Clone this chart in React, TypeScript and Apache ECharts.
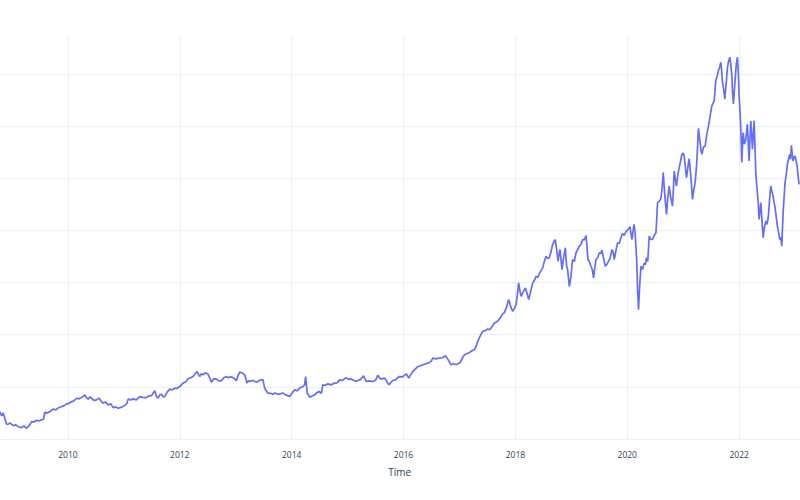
import React, { useEffect, useRef } from "react";
import * as echarts from "echarts";

// Time (decimal years)
const years: number[] = [
  2008.786, 2008.816, 2008.845, 2008.875, 2008.905, 2008.934, 2008.964, 2009.023, 2009.071, 2009.113,
  2009.173, 2009.214, 2009.262, 2009.304, 2009.352, 2009.393, 2009.441, 2009.482, 2009.530, 2009.563,
  2009.589, 2009.634, 2009.679, 2009.738, 2009.786, 2009.827, 2009.888, 2009.929, 2009.977, 2010.018,
  2010.066, 2010.107, 2010.155, 2010.196, 2010.245, 2010.304, 2010.330, 2010.363, 2010.393, 2010.423,
  2010.464, 2010.513, 2010.545, 2010.571, 2010.602, 2010.630, 2010.670, 2010.720, 2010.768, 2010.809,
  2010.857, 2010.898, 2010.946, 2010.988, 2011.048, 2011.077, 2011.125, 2011.166, 2011.227, 2011.259,
  2011.286, 2011.339, 2011.405, 2011.446, 2011.495, 2011.527, 2011.554, 2011.580, 2011.613, 2011.643,
  2011.673, 2011.705, 2011.732, 2011.777, 2011.821, 2011.866, 2011.911, 2011.955, 2012.000, 2012.059,
  2012.107, 2012.148, 2012.196, 2012.238, 2012.277, 2012.309, 2012.339, 2012.357, 2012.388, 2012.416,
  2012.455, 2012.505, 2012.536, 2012.566, 2012.607, 2012.655, 2012.696, 2012.745, 2012.786, 2012.834,
  2012.875, 2012.911, 2012.952, 2012.982, 2013.013, 2013.041, 2013.071, 2013.116, 2013.161, 2013.184,
  2013.202, 2013.232, 2013.268, 2013.309, 2013.348, 2013.398, 2013.438, 2013.488, 2013.518, 2013.545,
  2013.577, 2013.625, 2013.666, 2013.705, 2013.755, 2013.786, 2013.839, 2013.893, 2013.964, 2014.009,
  2014.054, 2014.098, 2014.143, 2014.202, 2014.232, 2014.250, 2014.280, 2014.321, 2014.366, 2014.411,
  2014.446, 2014.488, 2014.530, 2014.559, 2014.598, 2014.648, 2014.705, 2014.768, 2014.813, 2014.857,
  2014.911, 2014.977, 2015.018, 2015.054, 2015.095, 2015.143, 2015.184, 2015.232, 2015.286, 2015.334,
  2015.384, 2015.452, 2015.500, 2015.541, 2015.571, 2015.602, 2015.661, 2015.696, 2015.738, 2015.768,
  2015.809, 2015.857, 2015.893, 2015.929, 2015.982, 2016.048, 2016.071, 2016.095, 2016.125, 2016.166,
  2016.214, 2016.255, 2016.304, 2016.345, 2016.402, 2016.464, 2016.500, 2016.523, 2016.580, 2016.643,
  2016.696, 2016.750, 2016.791, 2016.821, 2016.852, 2016.893, 2016.941, 2016.973, 2017.013, 2017.054,
  2017.089, 2017.134, 2017.179, 2017.223, 2017.268, 2017.295, 2017.327, 2017.357, 2017.384, 2017.416,
  2017.455, 2017.505, 2017.536, 2017.566, 2017.598, 2017.625, 2017.670, 2017.714, 2017.745, 2017.773,
  2017.804, 2017.839, 2017.880, 2017.902, 2017.929, 2017.952, 2017.982, 2018.013, 2018.036, 2018.059,
  2018.080, 2018.102, 2018.134, 2018.179, 2018.205, 2018.238, 2018.268, 2018.309, 2018.339, 2018.370,
  2018.402, 2018.429, 2018.459, 2018.488, 2018.518, 2018.548, 2018.577, 2018.607, 2018.638, 2018.666,
  2018.714, 2018.738, 2018.763, 2018.786, 2018.798, 2018.834, 2018.857, 2018.893, 2018.916, 2018.934,
  2018.964, 2018.991, 2019.023, 2019.054, 2019.084, 2019.113, 2019.143, 2019.173, 2019.202, 2019.232,
  2019.262, 2019.277, 2019.298, 2019.321, 2019.352, 2019.375, 2019.398, 2019.420, 2019.441, 2019.473,
  2019.500, 2019.527, 2019.548, 2019.571, 2019.607, 2019.634, 2019.666, 2019.696, 2019.727, 2019.750,
  2019.768, 2019.795, 2019.827, 2019.857, 2019.888, 2019.916, 2019.946, 2019.977, 2020.005, 2020.048,
  2020.084, 2020.120, 2020.138, 2020.155, 2020.170, 2020.184, 2020.202, 2020.220, 2020.245, 2020.273,
  2020.304, 2020.325, 2020.345, 2020.366, 2020.393, 2020.420, 2020.452, 2020.482, 2020.513, 2020.527,
  2020.541, 2020.571, 2020.602, 2020.621, 2020.643, 2020.670, 2020.702, 2020.723, 2020.750, 2020.777,
  2020.809, 2020.825, 2020.839, 2020.861, 2020.880, 2020.905, 2020.929, 2020.952, 2020.977, 2021.000,
  2021.018, 2021.039, 2021.059, 2021.084, 2021.107, 2021.129, 2021.148, 2021.166, 2021.191, 2021.214,
  2021.241, 2021.259, 2021.273, 2021.295, 2021.316, 2021.334, 2021.363, 2021.393, 2021.423, 2021.452,
  2021.482, 2021.512, 2021.536, 2021.554, 2021.571, 2021.584, 2021.607, 2021.630, 2021.652, 2021.673,
  2021.688, 2021.702, 2021.723, 2021.745, 2021.768, 2021.791, 2021.813, 2021.834, 2021.852, 2021.870,
  2021.884, 2021.898, 2021.914, 2021.929, 2021.950, 2021.970, 2021.986, 2022.000, 2022.018, 2022.030,
  2022.048, 2022.071, 2022.095, 2022.120, 2022.134, 2022.148, 2022.164, 2022.179, 2022.193, 2022.209,
  2022.223, 2022.238, 2022.254, 2022.268, 2022.282, 2022.298, 2022.313, 2022.327, 2022.343, 2022.357,
  2022.371, 2022.388, 2022.407, 2022.429, 2022.452, 2022.477, 2022.500, 2022.523, 2022.545, 2022.566,
  2022.586, 2022.607, 2022.625, 2022.643, 2022.664, 2022.684, 2022.705, 2022.727, 2022.745, 2022.763,
  2022.773, 2022.786, 2022.804, 2022.821, 2022.843, 2022.863, 2022.884, 2022.905, 2022.920, 2022.934,
  2022.950, 2022.964, 2022.982, 2023.000, 2023.021, 2023.041, 2023.057, 2023.071,
];

// Series values
const values: number[] = [
  26.0, 22.1, 25.0, 19.2, 14.4, 14.1, 15.4, 12.8, 13.5, 11.8,
  10.9, 12.5, 10.3, 12.5, 16.6, 16.3, 18.0, 17.3, 18.3, 19.2,
  25.7, 25.0, 26.3, 28.8, 27.9, 29.8, 31.1, 31.7, 33.7, 34.1,
  35.9, 36.5, 39.1, 38.5, 39.7, 42.3, 39.4, 38.2, 40.4, 39.1,
  37.0, 37.5, 38.9, 38.5, 35.6, 34.3, 35.6, 32.7, 33.7, 30.1,
  30.8, 29.5, 30.3, 31.1, 33.4, 38.2, 37.5, 38.5, 37.5, 39.4,
  40.7, 39.9, 39.7, 41.3, 41.6, 44.2, 46.2, 41.3, 39.1, 42.3,
  43.0, 40.4, 40.7, 45.2, 47.8, 47.1, 48.8, 48.6, 50.3, 53.6,
  54.8, 57.7, 58.7, 59.9, 62.5, 64.7, 61.5, 59.9, 62.5, 61.5,
  63.5, 62.2, 58.7, 54.5, 57.7, 57.7, 55.8, 55.8, 58.7, 59.9,
  58.7, 59.6, 58.9, 57.7, 55.8, 60.6, 64.1, 63.5, 61.5, 57.7,
  53.6, 55.8, 55.3, 56.4, 54.8, 55.1, 56.7, 56.7, 48.8, 46.2,
  43.9, 43.8, 43.0, 44.2, 43.0, 43.0, 44.2, 42.3, 40.7, 44.2,
  47.1, 46.2, 48.8, 50.3, 51.9, 59.9, 43.9, 40.1, 41.3, 42.3,
  44.2, 45.5, 43.9, 51.9, 51.4, 52.9, 51.9, 53.6, 53.8, 56.7,
  56.3, 58.9, 57.2, 57.7, 56.7, 55.3, 56.1, 57.2, 60.6, 55.1,
  55.8, 55.1, 56.3, 61.3, 58.7, 57.4, 58.4, 55.8, 51.9, 53.8,
  56.1, 56.7, 58.7, 59.9, 59.6, 62.5, 60.6, 58.4, 61.5, 64.7,
  67.3, 69.5, 70.2, 71.2, 72.1, 73.4, 75.0, 77.6, 76.9, 77.6,
  77.9, 79.8, 76.6, 74.0, 71.2, 72.1, 71.2, 72.1, 73.4, 77.9,
  80.8, 81.7, 83.0, 84.6, 85.6, 88.5, 93.6, 97.1, 100.0, 103.2,
  103.8, 105.5, 104.8, 106.4, 109.1, 111.3, 112.5, 115.1, 117.3, 120.2,
  121.2, 126.0, 133.7, 129.8, 125.0, 122.4, 125.0, 128.8, 138.5, 149.7,
  142.3, 136.8, 140.4, 144.9, 140.4, 133.7, 140.4, 149.7, 151.9, 156.1,
  154.8, 158.7, 161.5, 164.1, 170.2, 175.3, 173.1, 173.8, 179.8, 186.5,
  191.3, 181.7, 170.5, 178.6, 181.7, 162.5, 172.1, 183.4, 165.7, 162.5,
  146.4, 154.8, 172.1, 170.2, 178.6, 181.7, 184.9, 186.5, 191.3, 190.9,
  195.2, 186.5, 172.1, 170.2, 165.7, 162.5, 154.5, 164.4, 172.1, 174.0,
  178.6, 177.9, 181.1, 175.0, 165.7, 167.3, 170.5, 174.0, 181.7, 178.8,
  172.1, 179.8, 188.2, 187.5, 193.3, 197.1, 195.2, 199.0, 200.3, 203.6,
  191.3, 205.8, 199.0, 184.9, 170.2, 143.3, 124.0, 145.2, 165.7, 162.5,
  168.9, 167.3, 173.8, 170.2, 194.5, 191.3, 191.3, 195.2, 197.8, 210.6,
  226.6, 227.9, 230.5, 239.4, 255.5, 234.6, 215.4, 229.8, 242.6, 231.7,
  223.4, 239.4, 257.0, 249.0, 242.6, 253.8, 260.3, 266.3, 273.1, 274.0,
  271.4, 260.6, 250.7, 260.6, 268.9, 256.7, 244.2, 229.8, 239.4, 245.9,
  263.5, 282.7, 297.8, 287.5, 277.9, 273.1, 279.8, 281.1, 292.3, 300.3,
  309.6, 319.5, 322.1, 324.3, 335.6, 343.6, 348.1, 353.2, 356.7, 361.3,
  352.9, 342.0, 335.6, 326.0, 340.4, 356.4, 362.5, 366.1, 358.7, 348.4,
  330.8, 321.2, 333.7, 345.2, 359.6, 366.1, 350.0, 329.1, 311.5, 297.1,
  265.1, 293.9, 282.7, 287.5, 295.2, 301.9, 282.7, 266.6, 287.5, 305.1,
  292.3, 277.9, 292.3, 305.1, 282.7, 255.5, 244.2, 236.3, 225.0, 210.6,
  218.3, 226.6, 210.6, 193.0, 202.9, 208.9, 205.8, 213.8, 229.8, 242.6,
  237.5, 233.0, 226.9, 221.8, 212.5, 204.1, 198.1, 191.3, 193.3, 184.9,
  199.0, 217.0, 231.7, 245.9, 253.8, 263.5, 268.3, 273.1, 268.3, 281.7,
  273.1, 266.6, 270.2, 271.4, 266.3, 260.3, 250.9, 244.2,
];

// Tick labels shown on the x axis
const yearTicks: number[] = [2010, 2012, 2014, 2016, 2018, 2020, 2022];
// Horizontal grid values (no labels shown in the reference)
const gridValues: number[] = [0, 50, 100, 150, 200, 250, 300, 350];

const VIEW_MIN = 2008.78;
const VIEW_MAX = 2023.085;
const AXIS_MIN = 2008;
const AXIS_MAX = 2024;

export default function App() {
  const ref = useRef<HTMLDivElement | null>(null);
  const pxPerYear = 800 / (VIEW_MAX - VIEW_MIN);
  const offsetLeft = (VIEW_MIN - AXIS_MIN) * pxPerYear;
  const innerWidth = (AXIS_MAX - AXIS_MIN) * pxPerYear;

  useEffect(() => {
    if (!ref.current) return;
    const chart = echarts.init(ref.current, undefined, { renderer: "svg" });
    const data = years.map((y, i) => [y, values[i]]);
    const textColor = "#2a3f5f";
    const gridColor = "#ebf0f8";
    chart.setOption({
      animation: false,
      backgroundColor: "#ffffff",
      grid: { left: 0, right: 0, top: 37, bottom: 61, containLabel: false },
      xAxis: {
        type: "value",
        min: AXIS_MIN,
        max: AXIS_MAX,
        interval: 2,
        axisLine: { show: false },
        axisTick: { show: false },
        axisLabel: {
          color: textColor,
          fontFamily: "Open Sans",
          fontSize: 8.5,
          margin: 11,
          showMinLabel: false,
          showMaxLabel: false,
          formatter: (v: number) => (yearTicks.includes(Math.round(v)) ? String(Math.round(v)) : ""),
        },
        splitLine: { show: true, lineStyle: { color: gridColor, width: 1 } },
      },
      yAxis: {
        type: "value",
        min: gridValues[0],
        max: 385.5,
        interval: 50,
        axisLine: { show: false },
        axisTick: { show: false },
        axisLabel: { show: false },
        splitLine: { show: true, showMaxLine: false, lineStyle: { color: gridColor, width: 1 } },
      },
      graphic: [
        {
          type: "text",
          x: offsetLeft + 400,
          y: 472,
          silent: true,
          style: {
            text: "Time",
            fill: textColor,
            fontFamily: "Open Sans",
            fontSize: 10,
            align: "center",
            verticalAlign: "middle",
          },
        },
      ],
      series: [
        {
          type: "line",
          data,
          showSymbol: false,
          symbol: "none",
          lineStyle: { color: "#636efa", width: 1.7 },
          itemStyle: { color: "#636efa" },
        },
      ],
    });
    return () => chart.dispose();
  }, []);

  return (
    <div
      style={{
        position: "fixed",
        left: 0,
        top: 0,
        width: 800,
        height: 500,
        overflow: "hidden",
        background: "#ffffff",
      }}
    >
      <div
        ref={ref}
        style={{ position: "absolute", left: -offsetLeft, top: 0, width: innerWidth, height: 500 }}
      />
    </div>
  );
}
